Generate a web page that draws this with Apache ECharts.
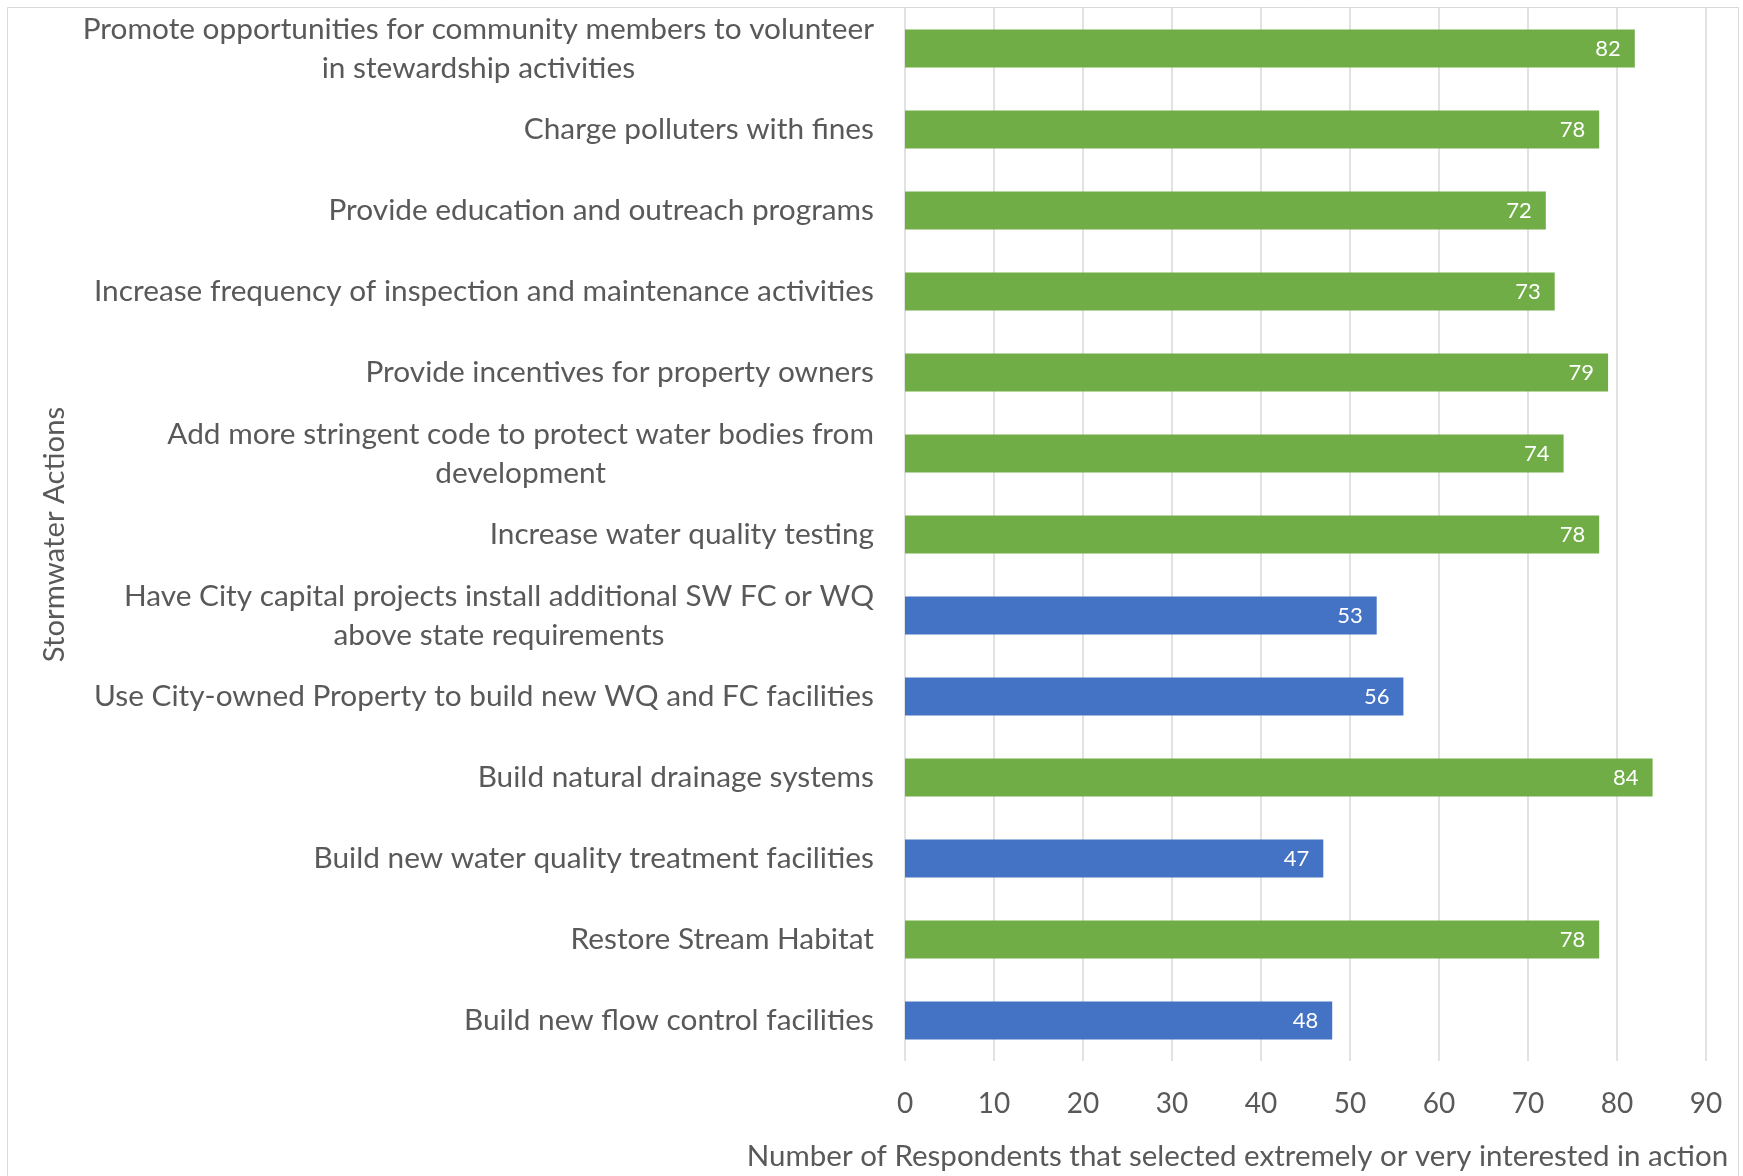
<!DOCTYPE html>
<html>
<head>
<meta charset="utf-8">
<script src="https://cdn.jsdelivr.net/npm/echarts@6/dist/echarts.min.js"></script>
<style>
  html, body { margin: 0; padding: 0; background: #ffffff; }
  #chart { width: 1743px; height: 1176px; }
</style>
</head>
<body>
<div id="chart"></div>
<script>
// Stormwater actions, listed bottom-to-top as the category axis draws them
const categories = [
  'Build new flow control facilities',
  'Restore Stream Habitat',
  'Build new water quality treatment facilities',
  'Build natural drainage systems',
  'Use City-owned Property to build new WQ and FC facilities',
  'Have City capital projects install additional SW FC or WQ\nabove state requirements',
  'Increase water quality testing',
  'Add more stringent code to protect water bodies from\ndevelopment',
  'Provide incentives for property owners',
  'Increase frequency of inspection and maintenance activities',
  'Provide education and outreach programs',
  'Charge polluters with fines',
  'Promote opportunities for community members to volunteer\nin stewardship activities'
];

// Respondents who selected "extremely" or "very interested"
const respondents = [48, 78, 47, 84, 56, 53, 78, 74, 79, 73, 72, 78, 82];

// Action type: capital facilities vs. programs and policies
const actionType = ['capital', 'program', 'capital', 'program', 'capital', 'capital',
  'program', 'program', 'program', 'program', 'program', 'program', 'program'];

const xTicks = [0, 10, 20, 30, 40, 50, 60, 70, 80, 90];

const typeColors = { capital: '#4472C4', program: '#70AD47' };
const FONT = 'Lato, "Open Sans", sans-serif';
const TEXT = '#595959';

const chart = echarts.init(document.getElementById('chart'), null, { renderer: 'canvas' });

chart.setOption({
  animation: false,
  backgroundColor: '#ffffff',
  textStyle: { fontFamily: FONT },
  graphic: [{
    type: 'rect',
    shape: { x: 7.5, y: 7.5, width: 1731, height: 1190 },
    style: { fill: 'none', stroke: '#D9D9D9', lineWidth: 1 },
    silent: true,
    z: -1
  }],
  grid: { left: 905, right: 37, top: 8, bottom: 114 },
  xAxis: {
    type: 'value',
    min: xTicks[0],
    max: xTicks[xTicks.length - 1],
    interval: xTicks[1] - xTicks[0],
    axisLine: { show: false },
    axisTick: { show: false },
    splitLine: { show: true, lineStyle: { color: '#D9D9D9', width: 1.5 } },
    axisLabel: { color: TEXT, fontSize: 28, fontFamily: FONT, margin: 29 },
    name: 'Number of Respondents that selected extremely or very interested in action',
    nameLocation: 'middle',
    nameGap: 80,
    nameTextStyle: { color: TEXT, fontSize: 29.5, fontFamily: FONT, padding: [0, 136, 0, 0] }
  },
  yAxis: {
    type: 'category',
    data: categories,
    axisLine: { show: false },
    axisTick: { show: false },
    splitLine: { show: false },
    axisLabel: {
      margin: 31,
      formatter: function (v) {
        return v.split('\n').map(function (l) { return '{c|' + l + '}'; }).join('\n');
      },
      rich: {
        c: { align: 'center', color: TEXT, fontSize: 29.8, lineHeight: 39, fontFamily: FONT }
      }
    },
    name: 'Stormwater Actions',
    nameLocation: 'middle',
    nameGap: 836,
    nameRotate: 90,
    nameTextStyle: { color: TEXT, fontSize: 29.3, fontFamily: FONT }
  },
  series: [{
    type: 'bar',
    barWidth: 38,
    data: respondents.map(function (v, i) {
      return { value: v, itemStyle: { color: typeColors[actionType[i]] } };
    }),
    label: {
      show: true,
      position: 'insideRight',
      distance: 14,
      color: '#ffffff',
      fontSize: 22,
      fontFamily: FONT
    }
  }]
});
</script>
</body>
</html>
